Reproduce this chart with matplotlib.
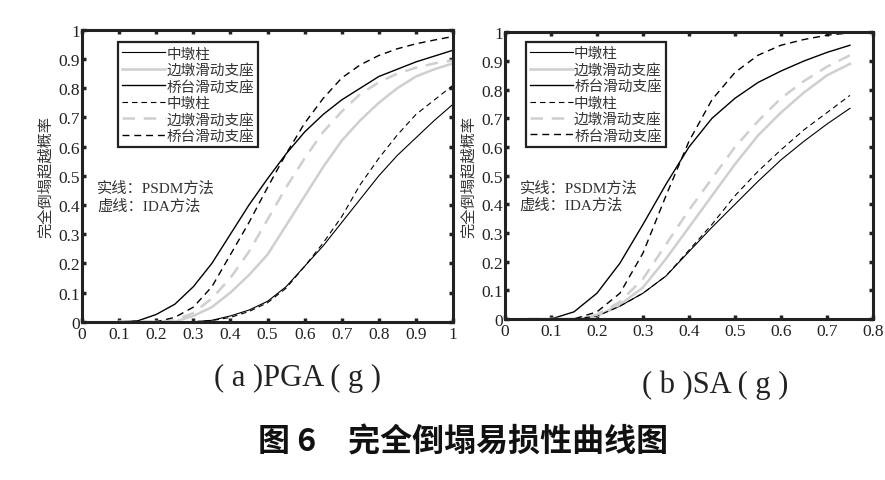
import numpy as np
import matplotlib
matplotlib.use('Agg')
import matplotlib.pyplot as plt
from matplotlib.ticker import FuncFormatter

plt.rcParams['font.family'] = ['Liberation Serif', 'Noto Sans CJK SC', 'DejaVu Sans']

# ---- data ----
labels = ['中墩柱', '边墩滑动支座', '桥台滑动支座']

# (a) PGA (g)
x_a = [0.10, 0.15, 0.20, 0.25, 0.30, 0.35, 0.40, 0.45, 0.50, 0.55,
       0.60, 0.65, 0.70, 0.75, 0.80, 0.85, 0.90, 0.95, 1.00]
a_mid_psdm = [0, 0, 0, 0, 0, 0.005, 0.02, 0.04, 0.07, 0.12,
              0.19, 0.26, 0.34, 0.42, 0.50, 0.57, 0.63, 0.69, 0.745]
a_side_psdm = [0, 0, 0, 0, 0.02, 0.05, 0.10, 0.16, 0.23, 0.33,
               0.43, 0.53, 0.62, 0.69, 0.75, 0.80, 0.84, 0.865, 0.885]
a_abut_psdm = [0, 0.003, 0.025, 0.06, 0.12, 0.20, 0.30, 0.40, 0.49, 0.575,
               0.65, 0.71, 0.76, 0.80, 0.84, 0.865, 0.89, 0.91, 0.93]
a_mid_ida = [0, 0, 0, 0, 0, 0.004, 0.015, 0.035, 0.065, 0.115,
             0.19, 0.27, 0.36, 0.47, 0.56, 0.64, 0.71, 0.76, 0.81]
a_side_ida = [0, 0, 0, 0.005, 0.03, 0.08, 0.15, 0.24, 0.35, 0.46,
              0.56, 0.65, 0.72, 0.78, 0.82, 0.85, 0.87, 0.885, 0.895]
a_abut_ida = [0, 0, 0, 0.015, 0.05, 0.12, 0.23, 0.34, 0.46, 0.575,
              0.68, 0.765, 0.835, 0.88, 0.912, 0.935, 0.952, 0.965, 0.977]

# (b) SA (g)
x_b = [0.05, 0.10, 0.15, 0.20, 0.25, 0.30, 0.35, 0.40, 0.45, 0.50,
       0.55, 0.60, 0.65, 0.70, 0.75]
b_mid_psdm = [0, 0, 0, 0.01, 0.045, 0.09, 0.15, 0.235, 0.32, 0.40,
              0.48, 0.555, 0.62, 0.68, 0.735]
b_side_psdm = [0, 0, 0, 0.01, 0.05, 0.11, 0.21, 0.32, 0.43, 0.54,
               0.64, 0.72, 0.79, 0.85, 0.89]
b_abut_psdm = [0, 0, 0.025, 0.09, 0.195, 0.33, 0.47, 0.60, 0.70, 0.77,
               0.825, 0.865, 0.90, 0.93, 0.955]
b_mid_ida = [0, 0, 0, 0.01, 0.045, 0.09, 0.15, 0.24, 0.33, 0.43,
             0.515, 0.59, 0.66, 0.72, 0.78]
b_side_ida = [0, 0, 0, 0.015, 0.06, 0.14, 0.26, 0.38, 0.49, 0.60,
              0.69, 0.77, 0.83, 0.88, 0.92]
b_abut_ida = [0, 0, 0, 0.025, 0.09, 0.23, 0.43, 0.62, 0.765, 0.86,
              0.92, 0.955, 0.975, 0.99, 0.998]

styles = [dict(color='black', lw=0.8),
          dict(color='#cfcfcf', lw=1.8),
          dict(color='black', lw=1.0)]


def fmt(v, pos):
    s = '%.1f' % v
    if s.endswith('.0'):
        s = s[:-2]
    return s


def draw_panel(ax, x, psdm, ida, xmax, leg_xy):
    for y, lab, st in zip(psdm, labels, styles):
        ax.plot(x, y, '-', label=lab, **st)
    for y, lab, st in zip(ida, labels, styles):
        ax.plot(x, y, '--', dashes=(5, 3.5), label=lab, **st)
    ax.set_xlim(0, xmax)
    ax.set_ylim(0, 1)
    ax.set_xticks(np.arange(0, xmax + 0.001, 0.1))
    ax.set_yticks(np.arange(0, 1.001, 0.1))
    ax.xaxis.set_major_formatter(FuncFormatter(fmt))
    ax.yaxis.set_major_formatter(FuncFormatter(fmt))
    ax.tick_params(direction='in', length=3, width=2.5, top=True, right=True,
                   labelsize=12.5, colors='#222222')
    ax.tick_params(axis='x', pad=3)
    ax.tick_params(axis='y', pad=1.5)
    for sp in ax.spines.values():
        sp.set_linewidth(2.2)
        sp.set_color('#222222')
    ax.set_ylabel('完全倒塌超越概率', family=['Noto Sans CJK SC'],
                  fontsize=11, color='#333333')
    ax.yaxis.set_label_coords(-0.075, 0.5)
    leg = ax.legend(loc='upper left', bbox_to_anchor=leg_xy, borderaxespad=0,
                    prop={'family': 'Noto Sans CJK SC', 'size': 10.5},
                    handlelength=2.9, handletextpad=0.1, labelspacing=0.17,
                    borderpad=0.3, fancybox=False, framealpha=1)
    leg.get_frame().set_edgecolor('#222222')
    leg.get_frame().set_linewidth(1.6)
    for t in leg.get_texts():
        t.set_color('#333333')
    ax.text(0.04, 0.46, '实线：PSDM方法', transform=ax.transAxes,
            fontsize=11, color='#333333', va='center',
            family=['Liberation Serif', 'Noto Sans CJK SC'])
    ax.text(0.04, 0.40, '虚线：IDA方法', transform=ax.transAxes,
            fontsize=11, color='#333333', va='center',
            family=['Liberation Serif', 'Noto Sans CJK SC'])


fig = plt.figure(figsize=(8.85, 4.81), dpi=100)
ax1 = fig.add_axes([0.0927, 0.329, 0.4192, 0.607])
ax2 = fig.add_axes([0.5706, 0.3347, 0.4158, 0.596])

draw_panel(ax1, x_a,
           [a_mid_psdm, a_side_psdm, a_abut_psdm],
           [a_mid_ida, a_side_ida, a_abut_ida], 1.0, (0.097, 0.958))
draw_panel(ax2, x_b,
           [b_mid_psdm, b_side_psdm, b_abut_psdm],
           [b_mid_ida, b_side_ida, b_abut_ida], 0.8, (0.057, 0.967))

fig.text(298 / 885, 1 - 378 / 481, '( a )PGA ( g )', ha='center', va='center',
         fontsize=22, color='#222222', family=['Liberation Serif'])
fig.text(715 / 885, 1 - 385 / 481, '( b )SA ( g )', ha='center', va='center',
         fontsize=22, color='#222222', family=['Liberation Serif'])
fig.text(463 / 885, 1 - 443 / 481, '图 6　完全倒塌易损性曲线图', ha='center',
         va='center', fontsize=23, fontweight='bold', color='#111111',
         family=['Noto Sans CJK SC'])

fig.savefig('out.png', dpi=100)
